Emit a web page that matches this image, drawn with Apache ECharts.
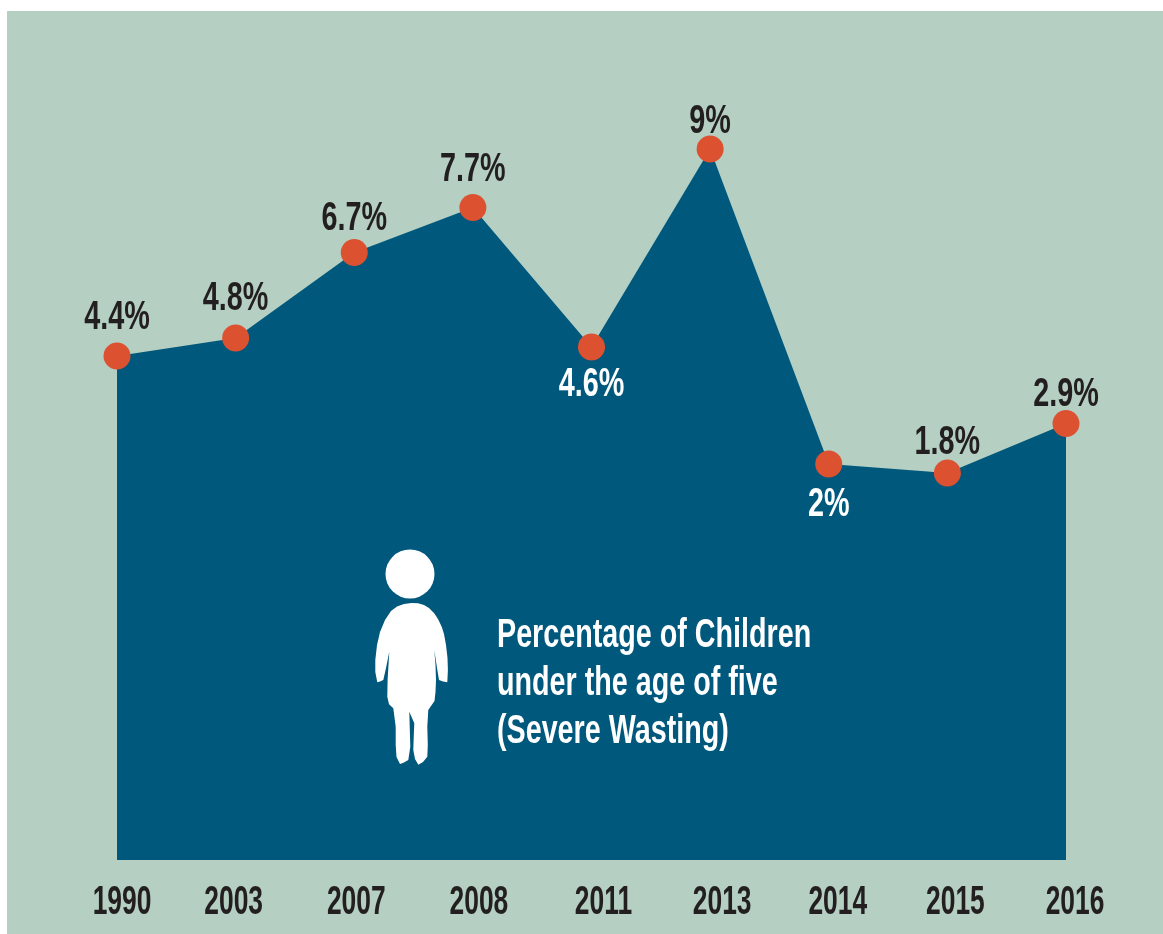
<!DOCTYPE html>
<html>
<head>
<meta charset="utf-8">
<style>
  html, body { margin: 0; padding: 0; background: #fff; }
  #chart { width: 1163px; height: 934px; }
</style>
<script src="https://cdn.jsdelivr.net/npm/echarts@6/dist/echarts.min.js"></script>
</head>
<body>
<div id="chart"></div>
<script>
const years = ["1990", "2003", "2007", "2008", "2011", "2013", "2014", "2015", "2016"];
const wasting = [4.4, 4.8, 6.7, 7.7, 4.6, 9, 2, 1.8, 2.9];
const noteLines = ["Percentage of Children", "under the age of five", "(Severe Wasting)"];

// label placement, px from the dot / from the axis position
const labelDy = [-38, -39, -34, -38, 38, -27, 41, -30, -29];
const yearDx = [5, -2, 2, 6, 12, 12, 9, 8, 9];
const yMin = -6.8;
const font = '"Liberation Sans", sans-serif';
// outline of the child icon
const bodyPoints = [
  [411.7, 603], [418, 603.3], [424, 605], [429, 608], [434, 613], [438, 619], [441.7, 626.7], [444, 634], [446, 645], [447.5, 658], [447.9, 670], [447.3, 682.3],
  [443, 681.5], [439, 680], [437, 668], [434.3, 650], [435.5, 665], [436, 680], [435.5, 692], [434.5, 701], [431, 706], [428.3, 710], [427.3, 726.7], [427.8, 745], [427.3, 756.7], [423, 762], [418.3, 764.7],
  [415, 759], [413.3, 750], [413.8, 735], [414.3, 723.3], [409.3, 711.7], [410.3, 746.7], [408.3, 760], [404, 762.5], [400, 764], [396.5, 757], [395.7, 745], [395.7, 726.7], [393.3, 708.3], [389, 704.3], [387.3, 696.7],
  [387.6, 680], [389.3, 651.7], [386, 668], [383.3, 680], [380, 681.5], [377.3, 682.3], [375.3, 672], [375.3, 660], [377, 645], [380, 632], [385, 620], [391, 611], [397, 606.5], [404, 604]
];

const myChart = echarts.init(document.getElementById("chart"));

// no condensed font is installed, so squeeze the text horizontally
function squeezedText(x, y, text, fill, scaleX) {
  return {
    type: "text",
    x: x,
    y: y,
    scaleX: scaleX,
    style: {
      text: text,
      fill: fill,
      font: "bold 40px " + font,
      textAlign: "center",
      textVerticalAlign: "middle"
    }
  };
}

const option = {
  animation: false,
  grid: { left: 117, right: 97, top: 59, bottom: 74 },
  xAxis: {
    type: "category",
    data: years,
    boundaryGap: false,
    axisLine: { show: false },
    axisTick: { show: false },
    axisLabel: { show: false }
  },
  yAxis: { type: "value", min: yMin, max: 11, show: false },
  series: [
    {
      type: "line",
      z: 3,
      symbol: "circle",
      symbolSize: 27,
      itemStyle: { color: "#dc5231" },
      lineStyle: { width: 0 },
      areaStyle: { color: "#00587c", opacity: 1, origin: "start" },
      data: wasting
    },
    {
      // value labels
      type: "custom",
      z: 6,
      silent: true,
      data: wasting.map((v, i) => [i, v]),
      renderItem: (params, api) => {
        const p = api.coord([api.value(0), api.value(1)]);
        const dy = labelDy[params.dataIndex];
        return squeezedText(p[0], p[1] + dy, api.value(1) + "%", dy > 0 ? "#fff" : "#231f20", 0.72);
      }
    },
    {
      // year labels under the area
      type: "custom",
      z: 6,
      silent: true,
      data: years.map((y, i) => [i, yMin]),
      renderItem: (params, api) => {
        const p = api.coord([api.value(0), api.value(1)]);
        return squeezedText(p[0] + yearDx[params.dataIndex], p[1] + 43, years[params.dataIndex], "#231f20", 0.66);
      }
    }
  ],
  graphic: [
    { type: "rect", z: 0, shape: { x: 7, y: 11, width: 1156, height: 923 }, style: { fill: "#b5d0c2" } },
    { type: "circle", z: 10, shape: { cx: 410, cy: 574, r: 24.5 }, style: { fill: "#fff" } },
    { type: "polygon", z: 10, shape: { points: bodyPoints }, style: { fill: "#fff" } },
    ...noteLines.map((t, i) => ({
      type: "text",
      z: 10,
      x: 497,
      y: 636 + i * 48,
      scaleX: 0.7,
      style: {
        text: t,
        fill: "#fff",
        font: "bold 41px " + font,
        verticalAlign: "middle"
      }
    }))
  ]
};

myChart.setOption(option);
window.addEventListener("resize", myChart.resize);
</script>
</body>
</html>
